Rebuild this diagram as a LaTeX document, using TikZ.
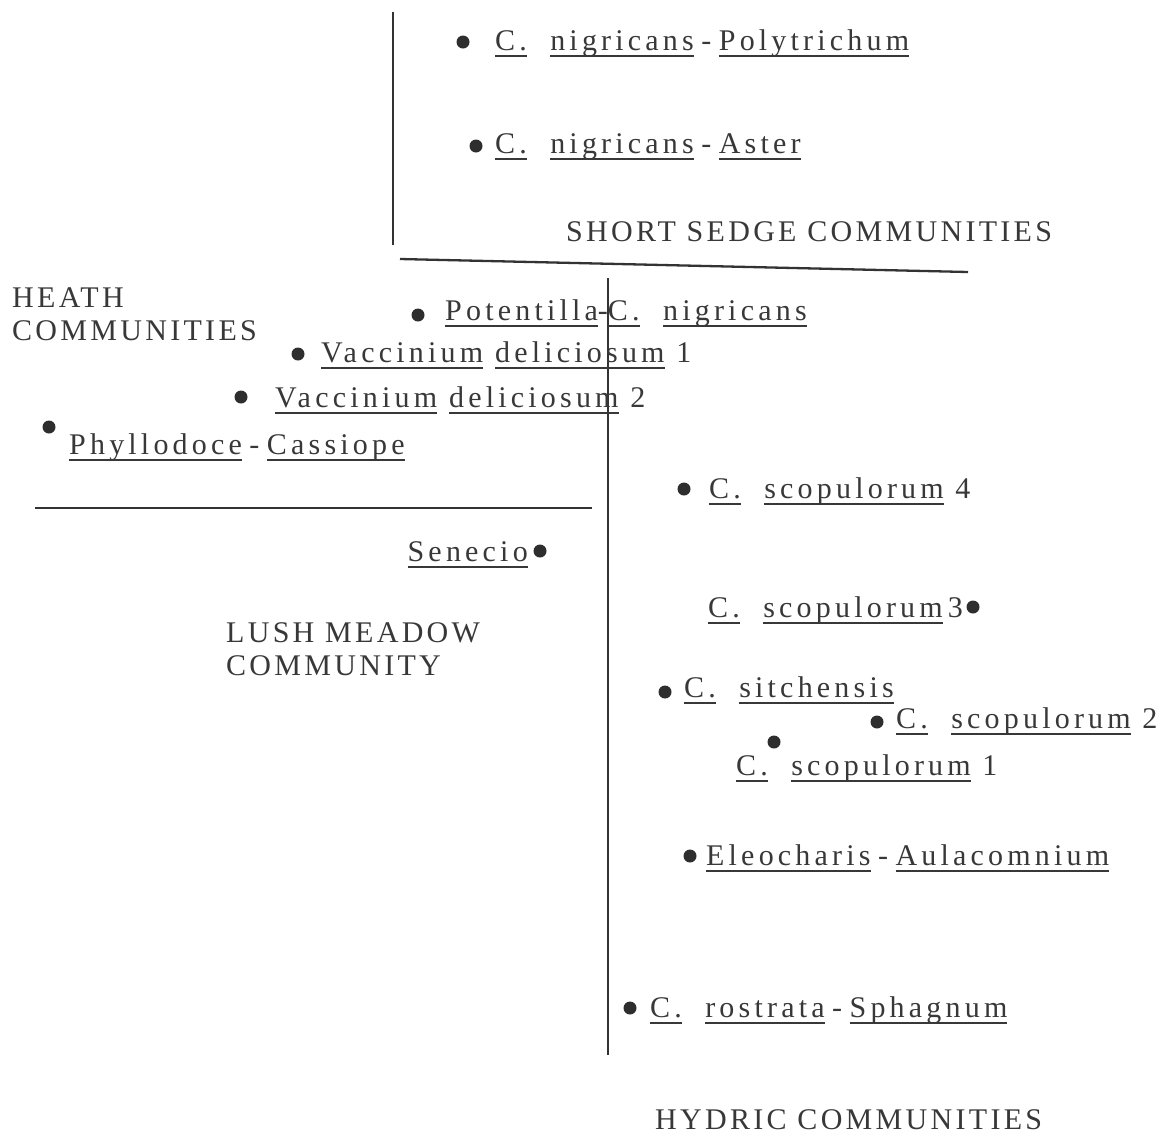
\documentclass[tikz,border=0pt]{standalone}
\usepackage{fontspec}
\setmainfont{Liberation Serif}[LetterSpace=11]
\newfontfamily\spfont{Liberation Serif}[LetterSpace=14]
\usetikzlibrary{positioning}

% underlined word
\newcommand\ulw[1]{\setbox0\hbox{#1}\rlap{\rule[-7pt]{\wd0}{2pt}}\box0\relax}
\newcommand\gap{\hspace{0.78em}}
\newcommand\wsp{\hspace{0.4em}}
\newcommand\hy{\hspace{0.25em}-\hspace{0.25em}}

\tikzset{
  spot/.style={circle,fill=black!82,inner sep=0pt,minimum size=13pt},
  lbl/.style={anchor=base west,inner sep=0pt,text=black!78,font=\fontsize{30}{33}\spfont},
  grp/.style={anchor=base west,inner sep=0pt,text=black!78,align=left,font=\fontsize{30}{33}\selectfont}
}

\begin{document}
\begin{tikzpicture}[x=1pt,y=-1pt]
  \useasboundingbox (0,0) rectangle (1162,1136);

  % Ejes / separaciones
  \draw[black!80,line width=2.3pt] (393,12) -- (393,245);
  \draw[black!80,line width=2.3pt] (400,259) -- (968,272);
  \draw[black!80,line width=2.3pt] (608,278) -- (608,1055);
  \draw[black!80,line width=2.3pt] (35,508) -- (592,508);

  % Grupos
  \node[grp] (short) at (566,241) {SHORT SEDGE COMMUNITIES};
  \node[grp] (heath) at (12,340) {HEATH\\COMMUNITIES};
  \node[grp] (lush) at (226,675) {LUSH MEADOW\\COMMUNITY};
  \node[grp] (hydric) at (655,1129) {HYDRIC COMMUNITIES};

  % Puntos
  \node[spot] (poly) at (463,42) {};
  \node[spot] (aster) at (476,146) {};
  \node[spot] (potent) at (418,315) {};
  \node[spot] (vacA) at (298,354) {};
  \node[spot] (vacB) at (241,397) {};
  \node[spot] (phyl) at (49,427) {};
  \node[spot] (scopD) at (684,489) {};
  \node[spot] (senec) at (540,551) {};
  \node[spot] (scopC) at (973,607) {};
  \node[spot] (sitch) at (665,692) {};
  \node[spot] (scopB) at (877,722) {};
  \node[spot] (scopA) at (774,742) {};
  \node[spot] (eleo) at (690,856) {};
  \node[spot] (rostr) at (630,1008) {};

  % Etiquetas de los puntos
  \node[lbl] (polyT) at (495,50) {\ulw{C.}\gap\ulw{nigricans}\hy\ulw{Polytrichum}};
  \node[lbl] (asterT) at (495,153) {\ulw{C.}\gap\ulw{nigricans}\hy\ulw{Aster}};
  \node[lbl] (potentT) at (445,320) {\ulw{Potentilla}-\ulw{C.}\gap\ulw{nigricans}};
  \node[lbl] (vacAT) at (321,362) {\ulw{Vaccinium}\wsp\ulw{deliciosum} 1};
  \node[lbl] (vacBT) at (275,407) {\ulw{Vaccinium}\wsp\ulw{deliciosum} 2};
  \node[lbl] (phylT) at (69,454) {\ulw{Phyllodoce}\hy\ulw{Cassiope}};
  \node[lbl] (scopDT) at (709,498) {\ulw{C.}\gap\ulw{scopulorum} 4};
  \node[lbl,anchor=base east] (senecT) at (528,561) {\ulw{Senecio}};
  \node[lbl,anchor=base east] (scopCT) at (963,617) {\ulw{C.}\gap\ulw{scopulorum}\,3};
  \node[lbl] (sitchT) at (684,697) {\ulw{C.}\gap\ulw{sitchensis}};
  \node[lbl] (scopBT) at (896,728) {\ulw{C.}\gap\ulw{scopulorum} 2};
  \node[lbl] (scopAT) at (736,775) {\ulw{C.}\gap\ulw{scopulorum} 1};
  \node[lbl] (eleoT) at (706,865) {\ulw{Eleocharis}\hy\ulw{Aulacomnium}};
  \node[lbl] (rostrT) at (650,1017) {\ulw{C.}\gap\ulw{rostrata}\hy\ulw{Sphagnum}};

\end{tikzpicture}
\end{document}
